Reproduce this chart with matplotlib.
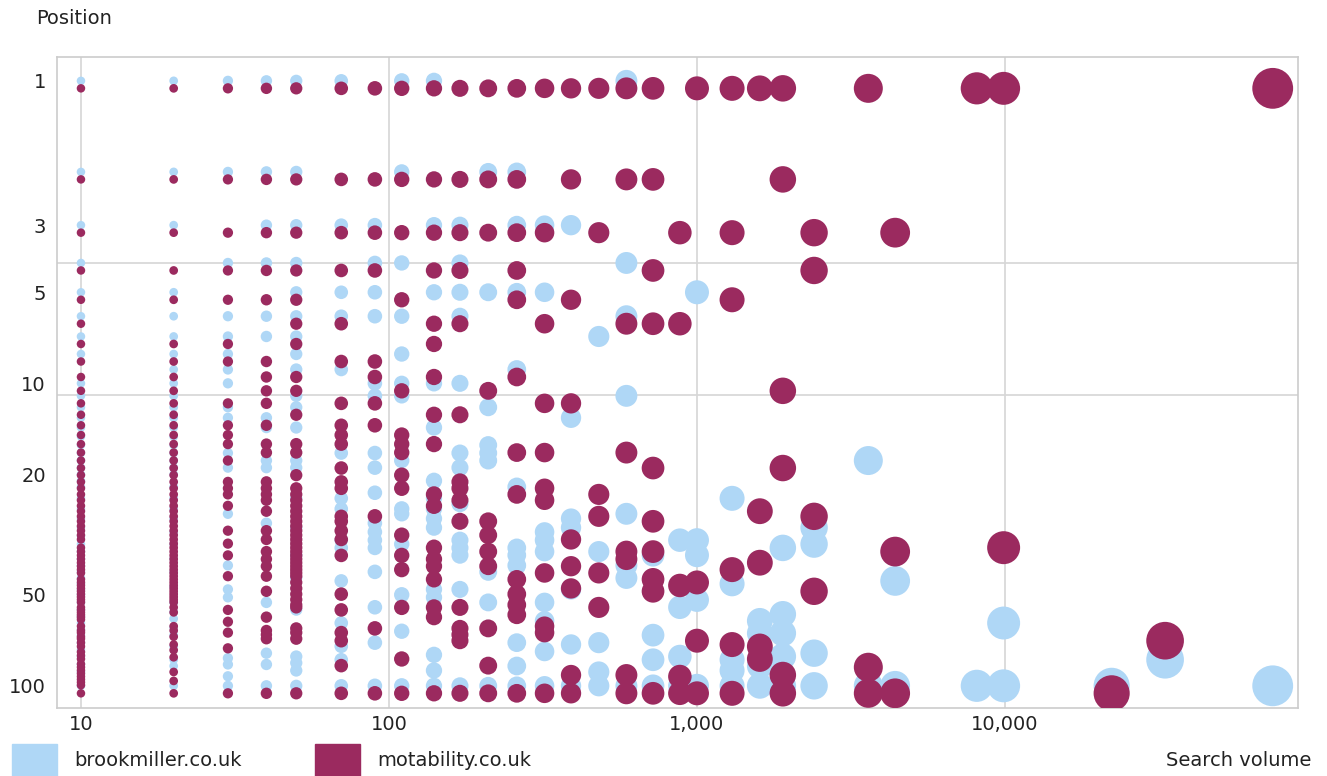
"""Search volume vs ranking position bubble chart (brookmiller vs motability)."""
import numpy as np
import matplotlib
matplotlib.use("Agg")
import matplotlib.pyplot as plt
from matplotlib.patches import Rectangle
from matplotlib.transforms import ScaledTranslation

# --- data: search volume buckets and the ranking positions found in each ---
volumes = [10, 20, 30, 40, 50, 70, 90, 110, 140, 170, 210, 260, 320, 390, 480,
           590, 720, 880, 1000, 1300, 1600, 1900, 2400, 3600, 4400, 8100, 9900,
           22200, 33100, 74000]

brook_v10 = [1, 2, 3, 4, 5, 6, 7, 8, 10, 11, 12, 13, 14, 15, 16, 17, 18, 19, 20,
             21, 22, 24, 26, 28, 30, 32, 34, 36, 38, 40, 42, 44, 46, 48, 50, 53,
             56, 59, 62, 65, 68, 72, 76, 80, 85, 90, 100]
moto_v10 = [1, 2, 3, 4, 5, 6, 7, 8, 9, 10, 11, 12, 13, 14, 15, 16, 17, 18, 19, 20,
            21, 22, 23, 24, 25, 26, 27, 28, 29, 30, 31, 33, 34, 35, 36, 37, 38, 39,
            40, 42, 43, 44, 45, 46, 47, 48, 49, 50, 52, 53, 54, 55, 56, 57, 60, 62,
            63, 65, 66, 68, 70, 73, 75, 77, 80, 82, 84, 86, 88, 90, 92, 94, 100]
brook_v20 = [1, 2, 3, 5, 6, 7, 8, 9, 10, 11, 12, 13, 14, 15, 16, 17, 18, 19, 20,
             22, 24, 26, 28, 31, 34, 38, 42, 47, 53, 57, 60, 64, 68, 74, 82, 86, 100]
moto_v20 = [1, 2, 3, 4, 5, 7, 8, 9, 10, 11, 12, 13, 14, 15, 16, 17, 18, 19, 20, 21,
            22, 23, 24, 25, 26, 27, 28, 29, 30, 31, 32, 33, 34, 35, 36, 37, 38, 39,
            40, 41, 42, 43, 44, 45, 46, 47, 48, 49, 50, 52, 54, 60, 62, 65, 69, 72,
            76, 85, 91, 100]
brook_v30 = [1, 2, 4, 6, 7, 8, 9, 10, 12, 13, 17, 19, 27, 40, 48, 51, 81, 85, 93, 100]
moto_v30 = [1, 2, 3, 4, 5, 7, 8, 11, 13, 14, 15, 17, 20, 21, 22, 24, 29, 32, 35, 41,
            53, 58, 63, 71, 100]
brook_v40 = [1, 2, 3, 4, 6, 7, 13, 14, 18, 19, 29, 53, 78, 85, 100]
moto_v40 = [1, 2, 3, 4, 5, 8, 9, 10, 11, 13, 15, 16, 20, 21, 22, 23, 25, 29, 31, 34,
            36, 38, 41, 46, 56, 62, 64, 66, 100]
brook_v50 = [1, 2, 3, 4, 5, 6, 7, 8, 9, 11, 12, 14, 18, 19, 24, 30, 37, 44, 56, 80,
             84, 89, 100]
moto_v50 = [1, 2, 3, 4, 5, 6, 7, 9, 10, 12, 15, 16, 19, 21, 22, 23, 24, 25, 26, 27,
            28, 29, 30, 31, 32, 33, 34, 35, 36, 37, 38, 39, 40, 41, 43, 45, 47, 49,
            51, 52, 61, 63, 66, 100]
brook_v70 = [1, 3, 5, 6, 9, 17, 24, 26, 33, 35, 45, 62, 74, 82, 100]
moto_v70 = [1, 2, 3, 4, 6, 8, 11, 13, 14, 15, 18, 20, 21, 26, 27, 29, 31, 35, 47, 53,
            63, 67, 81, 100]
brook_v90 = [3, 4, 5, 6, 10, 11, 17, 19, 23, 29, 31, 33, 35, 42, 55, 72, 100]
moto_v90 = [1, 2, 3, 4, 8, 9, 11, 13, 26, 61, 100]
brook_v110 = [1, 2, 4, 6, 8, 10, 11, 18, 26, 27, 34, 50, 66, 100]
moto_v110 = [1, 2, 3, 5, 10, 14, 15, 16, 19, 21, 30, 35, 39, 52, 77, 100]
brook_v140 = [1, 3, 5, 10, 14, 21, 24, 26, 28, 30, 48, 51, 79, 89, 100]
moto_v140 = [1, 2, 3, 4, 6, 7, 9, 12, 15, 22, 24, 33, 36, 38, 42, 52, 56, 100]
brook_v170 = [3, 4, 5, 6, 10, 17, 19, 25, 33, 35, 37, 48, 100]
moto_v170 = [1, 2, 3, 4, 6, 12, 20, 21, 23, 27, 52, 61, 64, 67, 100]
brook_v210 = [2, 5, 12, 16, 17, 18, 42, 53, 100]
moto_v210 = [1, 2, 3, 10, 27, 30, 34, 38, 61, 81, 100]
brook_v260 = [2, 3, 5, 9, 22, 35, 37, 40, 72, 86, 100]
moto_v260 = [1, 2, 3, 4, 5, 9, 16, 22, 42, 47, 51, 55, 100]
brook_v320 = [3, 5, 31, 33, 36, 53, 61, 77, 100]
moto_v320 = [1, 3, 6, 11, 16, 21, 23, 40, 60, 63, 100]
brook_v390 = [3, 13, 28, 30, 48, 73, 100]
moto_v390 = [1, 2, 5, 11, 31, 38, 45, 87, 100]
brook_v480 = [7, 36, 72, 90, 100]
moto_v480 = [1, 3, 22, 26, 40, 52]
brook_v590 = [1, 4, 6, 11, 27, 40, 44, 100]
moto_v590 = [1, 2, 6, 16, 34, 36, 87, 100]
brook_v720 = [37, 68, 82, 100]
moto_v720 = [1, 2, 4, 6, 18, 27, 34, 42, 46, 100]
brook_v880 = [33, 55, 80, 100]
moto_v880 = [3, 6, 44, 88, 100]
brook_v1000 = [5, 33, 37, 52, 100]
moto_v1000 = [1, 43, 67, 100]
brook_v1300 = [24, 46, 82, 89, 100]
moto_v1300 = [1, 3, 5, 39, 69, 100]
brook_v1600 = [61, 67, 86, 100]
moto_v1600 = [1, 25, 37, 70, 77]
brook_v1900 = [35, 58, 67, 80, 100]
moto_v1900 = [1, 2, 10, 18, 87, 100]
brook_v2400 = [30, 34, 78, 100]
moto_v2400 = [3, 4, 26, 46]
brook_v3600 = [18, 100]
moto_v3600 = [1, 82, 100]
brook_v4400 = [45, 100]
moto_v4400 = [3, 34, 100]
brook_v8100 = [100]
moto_v8100 = [1]
brook_v9900 = [62, 100]
moto_v9900 = [1, 33]
brook_v22200 = [100]
moto_v22200 = [100]
brook_v33100 = [82]
moto_v33100 = [67]
brook_v74000 = [100]
moto_v74000 = [1]

y_ticks = [1, 3, 5, 10, 20, 50, 100]
x_ticks = [10, 100, 1000, 10000]
x_tick_labels = ["10", "100", "1,000", "10,000"]

BROOK = "#afd7f6"
MOTO = "#9b2a5f"
GRID = "#d6d6d6"

brook_cols = [brook_v10, brook_v20, brook_v30, brook_v40, brook_v50, brook_v70,
              brook_v90, brook_v110, brook_v140, brook_v170, brook_v210, brook_v260,
              brook_v320, brook_v390, brook_v480, brook_v590, brook_v720, brook_v880,
              brook_v1000, brook_v1300, brook_v1600, brook_v1900, brook_v2400,
              brook_v3600, brook_v4400, brook_v8100, brook_v9900, brook_v22200,
              brook_v33100, brook_v74000]
moto_cols = [moto_v10, moto_v20, moto_v30, moto_v40, moto_v50, moto_v70,
             moto_v90, moto_v110, moto_v140, moto_v170, moto_v210, moto_v260,
             moto_v320, moto_v390, moto_v480, moto_v590, moto_v720, moto_v880,
             moto_v1000, moto_v1300, moto_v1600, moto_v1900, moto_v2400,
             moto_v3600, moto_v4400, moto_v8100, moto_v9900, moto_v22200,
             moto_v33100, moto_v74000]


def bubble_area(v):
    # bubble width grows with log(volume), floor of ~8.5px
    d_px = max(8.5, 15 + 9 * (np.log10(v) - 2))
    return (d_px * 0.72) ** 2


def flatten(cols):
    xs, ys, ss = [], [], []
    for v, positions in zip(volumes, cols):
        for p in positions:
            xs.append(v)
            ys.append(p)
            ss.append(bubble_area(v))
    return xs, ys, ss


W, H = 1327, 776
fig = plt.figure(figsize=(W / 100, H / 100), dpi=100)
ax = fig.add_axes([57 / W, 1 - 708 / H, (1298 - 57) / W, (708 - 57) / H])
ax.set_xscale("log")
ax.set_yscale("log")
ax.set_xlim(8.36, 89400)
ax.set_ylim(118.4, 0.834)

for v in x_ticks:
    ax.axvline(v, color=GRID, lw=1.2, zorder=0)
for p in [4, 10.9]:
    ax.axhline(p, color=GRID, lw=1.2, zorder=0)

bx, by, bs = flatten(brook_cols)
ax.scatter(bx, by, s=bs, color=BROOK, edgecolors="none", zorder=2)

# motability bubbles sit a few pixels lower than brookmiller's
down = ax.transData + ScaledTranslation(0, -7.5 / 100, fig.dpi_scale_trans)
mx, my, ms = flatten(moto_cols)
ax.scatter(mx, my, s=ms, color=MOTO, edgecolors="none", zorder=3, transform=down)

ax.xaxis.set_major_locator(matplotlib.ticker.FixedLocator(x_ticks))
ax.xaxis.set_minor_locator(matplotlib.ticker.NullLocator())
ax.set_xticklabels(x_tick_labels)
ax.yaxis.set_major_locator(matplotlib.ticker.FixedLocator(y_ticks))
ax.yaxis.set_minor_locator(matplotlib.ticker.NullLocator())
ax.set_yticklabels([str(t) for t in y_ticks])
ax.tick_params(axis="both", length=0, labelsize=14, colors="#222222")
ax.tick_params(axis="x", pad=5)
ax.tick_params(axis="y", pad=8)
for sp in ax.spines.values():
    sp.set_color("#cccccc")
    sp.set_linewidth(1.2)

fig.text(36 / W, 1 - 19 / H, "Position", fontsize=14, va="center", ha="left",
         color="#222222")
fig.text(1311 / W, 1 - 760 / H, "Search volume", fontsize=14, va="center",
         ha="right", color="#222222")

for x0, color, label in [(12, BROOK, "brookmiller.co.uk"),
                         (315, MOTO, "motability.co.uk")]:
    fig.patches.append(Rectangle((x0 / W, 0), 45 / W, 32 / H, color=color,
                                 transform=fig.transFigure, figure=fig))
    fig.text((x0 + 62) / W, 1 - 760 / H, label, fontsize=14, va="center",
             ha="left", color="#222222")

fig.savefig("out.png", dpi=100)
